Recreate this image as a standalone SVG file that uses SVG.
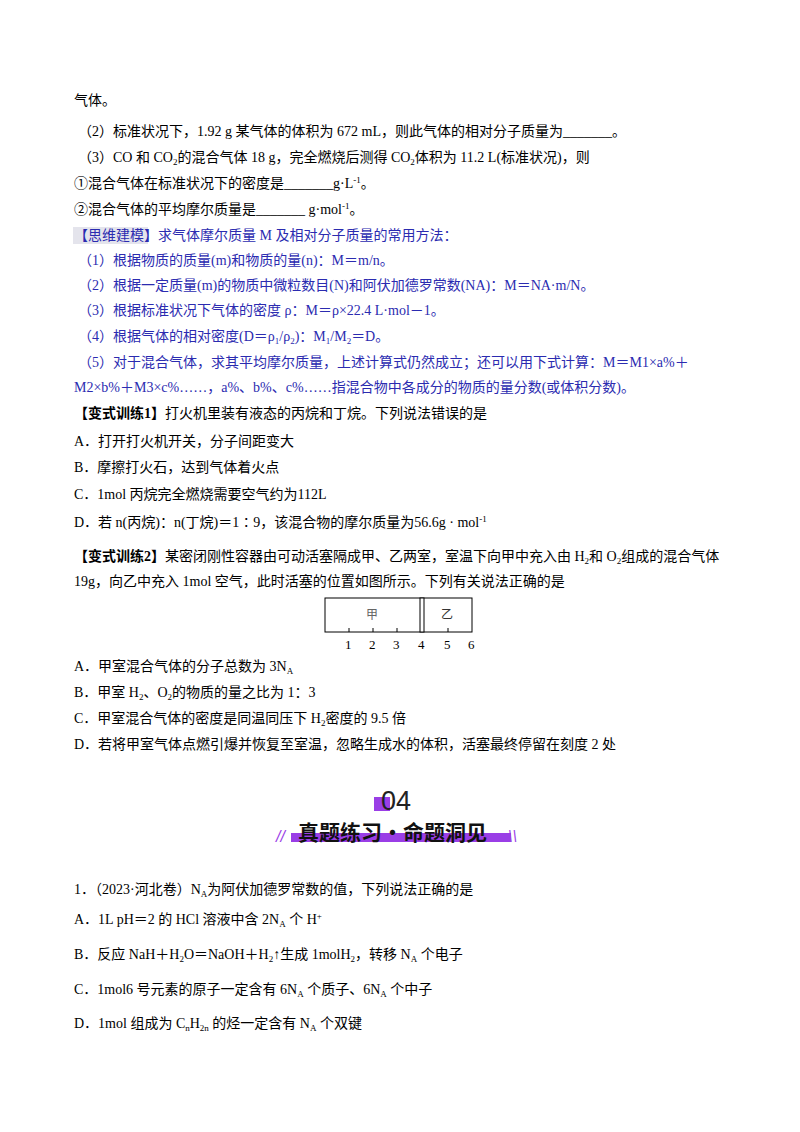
<svg xmlns="http://www.w3.org/2000/svg" width="800" height="1132" viewBox="0 0 800 1132">
<style>
text{font-family:"Liberation Serif","Noto Sans CJK SC",serif;font-size:14px;fill:#000}
.b{fill:#2b2bb0}
.bd{font-weight:bold}
.ax{stroke:#000;stroke-width:1;fill:none}
.n{font-size:13px}
</style>
<rect width="800" height="1132" fill="#fff"/>
<g id="text1">
<text x="74" y="105">气体。</text>
<text x="78" y="136">（2）标准状况下，1.92 g 某气体的体积为 672 mL，则此气体的相对分子质量为_______。</text>
<text x="78" y="162">（3）CO 和 CO<tspan font-size="9" dy="3">2</tspan><tspan dy="-3">的混合气体 18 g，完全燃烧后测得 CO</tspan><tspan font-size="9" dy="3">2</tspan><tspan dy="-3">体积为 11.2 L(标准状况)，则</tspan></text>
<text x="74" y="188">①混合气体在标准状况下的密度是_______g·L<tspan font-size="9" dy="-5">-1</tspan><tspan dy="5">。</tspan></text>
<text x="74" y="214">②混合气体的平均摩尔质量是_______ g·mol<tspan font-size="9" dy="-5">-1</tspan><tspan dy="5">。</tspan></text>
</g>
<g id="model">
<rect x="73" y="227" width="75" height="17" fill="#e4e4ec"/>
<text class="b" x="74" y="240">【思维建模】求气体摩尔质量 M 及相对分子质量的常用方法：</text>
<text class="b" x="78" y="265">（1）根据物质的质量(m)和物质的量(n)：M＝m/n。</text>
<text class="b" x="78" y="290">（2）根据一定质量(m)的物质中微粒数目(N)和阿伏加德罗常数(NA)：M＝NA·m/N。</text>
<text class="b" x="78" y="315">（3）根据标准状况下气体的密度 ρ：M＝ρ×22.4 L·mol－1。</text>
<text class="b" x="78" y="341">（4）根据气体的相对密度(D＝ρ<tspan font-size="9" dy="3">1</tspan><tspan dy="-3">/ρ</tspan><tspan font-size="9" dy="3">2</tspan><tspan dy="-3">)：M</tspan><tspan font-size="9" dy="3">1</tspan><tspan dy="-3">/M</tspan><tspan font-size="9" dy="3">2</tspan><tspan dy="-3">＝D。</tspan></text>
<text class="b" x="78" y="367">（5）对于混合气体，求其平均摩尔质量，上述计算式仍然成立；还可以用下式计算：M＝M1×a%＋</text>
<text class="b" x="74" y="392">M2×b%＋M3×c%……，a%、b%、c%……指混合物中各成分的物质的量分数(或体积分数)。</text>
</g>
<g id="q1">
<text x="74" y="418"><tspan class="bd">【变式训练1】</tspan>打火机里装有液态的丙烷和丁烷。下列说法错误的是</text>
<text x="74" y="446">A．打开打火机开关，分子间距变大</text>
<text x="74" y="472">B．摩擦打火石，达到气体着火点</text>
<text x="74" y="499">C．1mol 丙烷完全燃烧需要空气约为112L</text>
<text x="74" y="527">D．若 n(丙烷)：n(丁烷)＝1∶9，该混合物的摩尔质量为56.6g · mol<tspan font-size="9" dy="-5">-1</tspan></text>
</g>
<g id="q2">
<text x="74" y="561"><tspan class="bd">【变式训练2】</tspan>某密闭刚性容器由可动活塞隔成甲、乙两室，室温下向甲中充入由 H<tspan font-size="9" dy="3">2</tspan><tspan dy="-3">和 O</tspan><tspan font-size="9" dy="3">2</tspan><tspan dy="-3">组成的混合气体</tspan></text>
<text x="74" y="586">19g，向乙中充入 1mol 空气，此时活塞的位置如图所示。下列有关说法正确的是</text>
<text x="74" y="671">A．甲室混合气体的分子总数为 3N<tspan font-size="9" dy="3">A</tspan></text>
<text x="74" y="697">B．甲室 H<tspan font-size="9" dy="3">2</tspan><tspan dy="-3">、O</tspan><tspan font-size="9" dy="3">2</tspan><tspan dy="-3">的物质的量之比为 1：3</tspan></text>
<text x="74" y="723">C．甲室混合气体的密度是同温同压下 H<tspan font-size="9" dy="3">2</tspan><tspan dy="-3">密度的 9.5 倍</tspan></text>
<text x="74" y="749">D．若将甲室气体点燃引爆并恢复至室温，忽略生成水的体积，活塞最终停留在刻度 2 处</text>
</g>
<g id="box">
<rect class="ax" x="325" y="598" width="147" height="34"/>
<rect x="420" y="598" width="4" height="34" fill="#fff" stroke="#000" stroke-width="1"/>
<line class="ax" x1="349" y1="628" x2="349" y2="632"/>
<line class="ax" x1="373" y1="628" x2="373" y2="632"/>
<line class="ax" x1="397" y1="628" x2="397" y2="632"/>
<line class="ax" x1="448" y1="628" x2="448" y2="632"/>
<text x="366" y="619" style="font-size:12px;fill:#666">甲</text>
<text x="441" y="619" style="font-size:12px;fill:#333">乙</text>
<text class="n" x="345" y="649">1</text>
<text class="n" x="369" y="649">2</text>
<text class="n" x="393" y="649">3</text>
<text class="n" x="418" y="649">4</text>
<text class="n" x="444" y="649">5</text>
<text class="n" x="468" y="649">6</text>
</g>
<g id="banner">
<rect x="374" y="797" width="16" height="14" fill="#9a3ee6"/>
<text x="381" y="810" style="font-family:'Liberation Sans',sans-serif;font-size:27px;fill:#222">04</text>
<rect x="291" y="833" width="220" height="9" fill="#9a3ee6"/>
<text x="298" y="840" style="font-family:'Noto Sans CJK SC',sans-serif;font-size:21px;font-weight:bold;fill:#111">真题练习·命题洞见</text>
<text x="276" y="842" style="font-family:'Liberation Sans',sans-serif;font-size:16px;font-style:italic;fill:#9a3ee6">//</text>
<text x="508" y="842" style="font-family:'Liberation Sans',sans-serif;font-size:16px;font-style:italic;fill:#9a3ee6">\\</text>
</g>
<g id="q3">
<text x="74" y="894">1．（2023·河北卷）N<tspan font-size="9" dy="3">A</tspan><tspan dy="-3">为阿伏加德罗常数的值，下列说法正确的是</tspan></text>
<text x="74" y="924">A．1L pH＝2 的 HCl 溶液中含 2N<tspan font-size="9" dy="3">A</tspan><tspan dy="-3"> 个 H</tspan><tspan font-size="9" dy="-5">+</tspan></text>
<text x="74" y="959">B．反应 NaH＋H<tspan font-size="9" dy="3">2</tspan><tspan dy="-3">O＝NaOH＋H</tspan><tspan font-size="9" dy="3">2</tspan><tspan dy="-3">↑生成 1molH</tspan><tspan font-size="9" dy="3">2</tspan><tspan dy="-3">，转移 N</tspan><tspan font-size="9" dy="3">A</tspan><tspan dy="-3"> 个电子</tspan></text>
<text x="74" y="994">C．1mol6 号元素的原子一定含有 6N<tspan font-size="9" dy="3">A</tspan><tspan dy="-3"> 个质子、6N</tspan><tspan font-size="9" dy="3">A</tspan><tspan dy="-3"> 个中子</tspan></text>
<text x="74" y="1028">D．1mol 组成为 C<tspan font-size="9" dy="3">n</tspan><tspan dy="-3">H</tspan><tspan font-size="9" dy="3">2n</tspan><tspan dy="-3"> 的烃一定含有 N</tspan><tspan font-size="9" dy="3">A</tspan><tspan dy="-3"> 个双键</tspan></text>
</g>
</svg>
